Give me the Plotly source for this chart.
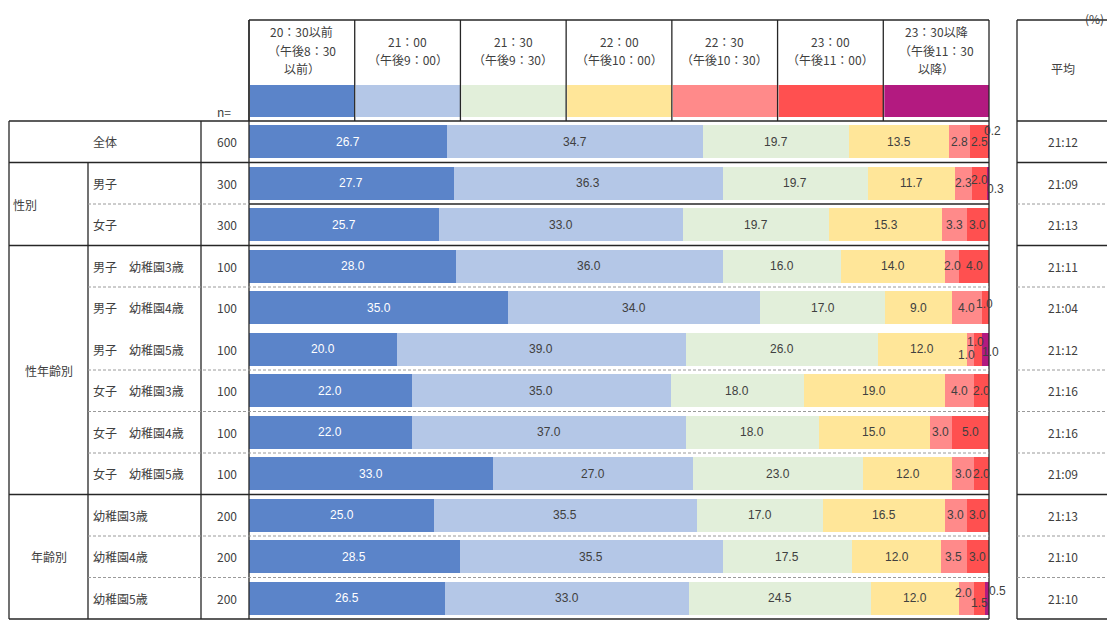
import plotly.graph_objects as go

W, H = 1115, 627
OFF = 8                      # page body margin around the plot div
FW, FH = W - OFF, H - OFF

# ---- data ----
row_labels = ["全体", "男子", "女子",
              "男子　幼稚園3歳", "男子　幼稚園4歳", "男子　幼稚園5歳",
              "女子　幼稚園3歳", "女子　幼稚園4歳", "女子　幼稚園5歳",
              "幼稚園3歳", "幼稚園4歳", "幼稚園5歳"]
n_values = [600, 300, 300, 100, 100, 100, 100, 100, 100, 200, 200, 200]
averages = ["21:12", "21:09", "21:13", "21:11", "21:04", "21:12",
            "21:16", "21:16", "21:09", "21:13", "21:10", "21:10"]

series_names = ["20：30以前<br>（午後8：30<br>以前）",
                "21：00<br>（午後9：00）",
                "21：30<br>（午後9：30）",
                "22：00<br>（午後10：00）",
                "22：30<br>（午後10：30）",
                "23：00<br>（午後11：00）",
                "23：30以降<br>（午後11：30<br>以降）"]

s_2030 = [26.7, 27.7, 25.7, 28.0, 35.0, 20.0, 22.0, 22.0, 33.0, 25.0, 28.5, 26.5]
s_2100 = [34.7, 36.3, 33.0, 36.0, 34.0, 39.0, 35.0, 37.0, 27.0, 35.5, 35.5, 33.0]
s_2130 = [19.7, 19.7, 19.7, 16.0, 17.0, 26.0, 18.0, 18.0, 23.0, 17.0, 17.5, 24.5]
s_2200 = [13.5, 11.7, 15.3, 14.0, 9.0, 12.0, 19.0, 15.0, 12.0, 16.5, 12.0, 12.0]
s_2230 = [2.8, 2.3, 3.3, 2.0, 4.0, 1.0, 4.0, 3.0, 3.0, 3.0, 3.5, 2.0]
s_2300 = [2.5, 2.0, 3.0, 4.0, 1.0, 1.0, 2.0, 5.0, 2.0, 3.0, 3.0, 1.5]
s_2330 = [0.2, 0.3, 0.0, 0.0, 0.0, 1.0, 0.0, 0.0, 0.0, 0.0, 0.0, 0.5]
series_values = [s_2030, s_2100, s_2130, s_2200, s_2230, s_2300, s_2330]

colors = ["#5B84C9", "#B4C7E7", "#E2EFDA", "#FFE699", "#FF8A8A", "#FF5050", "#B31A80"]

# label nudges for crowded small segments (row, series) -> (xshift, yshift) px
nudges = {(0, 6): (3, 11), (1, 5): (0, 3), (1, 6): (8, -6), (4, 5): (-1, 4),
          (5, 4): (-4, -6), (5, 5): (-2, 7), (5, 6): (5, -3),
          (11, 4): (-3, 5), (11, 5): (0, -5), (11, 6): (10, 7)}

# ---- geometry (page pixels) ----
TL, TC1, TC2, BX0, BX1 = 9, 88, 201, 249, 989
RX0, RX1 = 1017, 1108
HY0, ROW0, ROWH = 20, 121, 41.5
NROW = len(row_labels)
BOT = ROW0 + ROWH * NROW

def px(x):
    return (x - OFF) / FW

def py(y):
    return 1 - (y - OFF) / FH

JP = "Noto Sans CJK JP"
TXT = "#404040"
SOLID = dict(color="#262626", width=1.3)
DASH = dict(color="#9a9a9a", width=1, dash="3px,2px")

fig = go.Figure()
rows = list(range(NROW))
for name, vals, col in zip(series_names, series_values, colors):
    fig.add_trace(go.Bar(y=rows, x=vals, orientation="h", name=name,
                         marker=dict(color=col, line=dict(width=0)),
                         hoverinfo="skip"))

annotations = []
# segment labels
for r in rows:
    cum = 0
    for s, vals in enumerate(series_values):
        v = vals[r]
        if v > 0:
            xs, ys = nudges.get((r, s), (0, 0))
            annotations.append(dict(x=cum + v / 2, y=r, xref="x", yref="y", text=f"{v:.1f}",
                                    showarrow=False, xshift=xs, yshift=ys,
                                    font=dict(family="Liberation Sans, Arial", size=12,
                                              color="white" if s == 0 else TXT)))
        cum += v

shapes = []

def line(x0, y0, x1, y1, style):
    shapes.append(dict(type="line", xref="paper", yref="paper", x0=px(x0), y0=py(y0),
                       x1=px(x1), y1=py(y1), line=style))

def text(x, y, t, anchor="center", size=12, family=JP):
    annotations.append(dict(x=px(x), y=py(y), xref="paper", yref="paper", text=t,
                            showarrow=False, xanchor=anchor, yanchor="middle",
                            font=dict(family=family, size=size, color=TXT)))

# header cells with colour swatches
cw = (BX1 - BX0) / len(series_names)
for i, (name, col) in enumerate(zip(series_names, colors)):
    x0 = BX0 + cw * i
    shapes.append(dict(type="rect", xref="paper", yref="paper", x0=px(x0 + 1), x1=px(x0 + cw),
                       y0=py(117), y1=py(85), fillcolor=col, line=dict(width=0), layer="below"))
    parts = name.split("<br>")
    for k, part in enumerate(parts):
        text(x0 + cw / 2, 50 + 18 * (k - (len(parts) - 1) / 2), part)
    line(x0, HY0, x0, ROW0, SOLID)
line(BX1, HY0, BX1, BOT, SOLID)
line(BX0, HY0, BX1, HY0, SOLID)
line(BX0, HY0, BX0, BOT, SOLID)

# left table and row separators
solid_after = {0, 1, 2, 8}
no_line_after = {4}
line(TL, ROW0, BX1, ROW0, SOLID)
line(TL, BOT, BX1, BOT, SOLID)
line(TL, ROW0, TL, BOT, SOLID)
line(TC1, ROW0 + ROWH, TC1, BOT, SOLID)
line(TC2, ROW0, TC2, BOT, SOLID)
for r in range(NROW - 1):
    y = ROW0 + ROWH * (r + 1)
    if r in no_line_after:
        continue
    if r in solid_after:
        if r == 1:
            line(TC1, y, BX0, y, DASH)
            line(BX0, y, BX1, y, SOLID)
        else:
            line(TL, y, BX1, y, SOLID)
    else:
        line(TC1, y, BX1, y, DASH)

# right table (average)
line(RX0, HY0, RX1, HY0, SOLID)
line(RX0, BOT, RX1, BOT, SOLID)
line(RX0, HY0, RX0, BOT, SOLID)
line(RX1, HY0, RX1, BOT, SOLID)
line(RX0, ROW0, RX1, ROW0, SOLID)
for r in range(NROW - 1):
    y = ROW0 + ROWH * (r + 1)
    if r in no_line_after:
        continue
    line(RX0, y, RX1, y, SOLID if r in solid_after - {1} else DASH)

text((RX0 + RX1) / 2, 68, "平均")
annotations.append(dict(x=px(1106), y=1, xref="paper", yref="paper", text="(%)",
                        showarrow=False, xanchor="right", yanchor="top",
                        font=dict(family=JP, size=12, color=TXT)))
text(233, 112, "n=", anchor="right")

# group labels
text((TL + TC2) / 2, ROW0 + ROWH * 0.5, row_labels[0])
text(TL + 2, ROW0 + ROWH * 2, "性別", anchor="left")
text((TL + TC1) / 2, ROW0 + ROWH * 6, "性年齢別")
text((TL + TC1) / 2, ROW0 + ROWH * 10.5, "年齢別")

for r in rows:
    yc = ROW0 + ROWH * (r + 0.5)
    if r > 0:
        text(TC1 + 3, yc, row_labels[r], anchor="left")
    text(239, yc, str(n_values[r]), anchor="right")
    text((RX0 + RX1) / 2, yc, averages[r])

fig.update_layout(
    width=FW, height=FH, barmode="stack", bargap=0.205,
    margin=dict(l=0, r=0, t=0, b=0),
    paper_bgcolor="white", plot_bgcolor="white", showlegend=False,
    xaxis=dict(domain=[px(BX0), px(BX1)], range=[0, 100], visible=False, fixedrange=True),
    yaxis=dict(domain=[py(BOT), py(ROW0)], range=[NROW - 0.5, -0.5], visible=False, fixedrange=True),
    shapes=shapes, annotations=annotations,
)

fig.write_html("out.html")
